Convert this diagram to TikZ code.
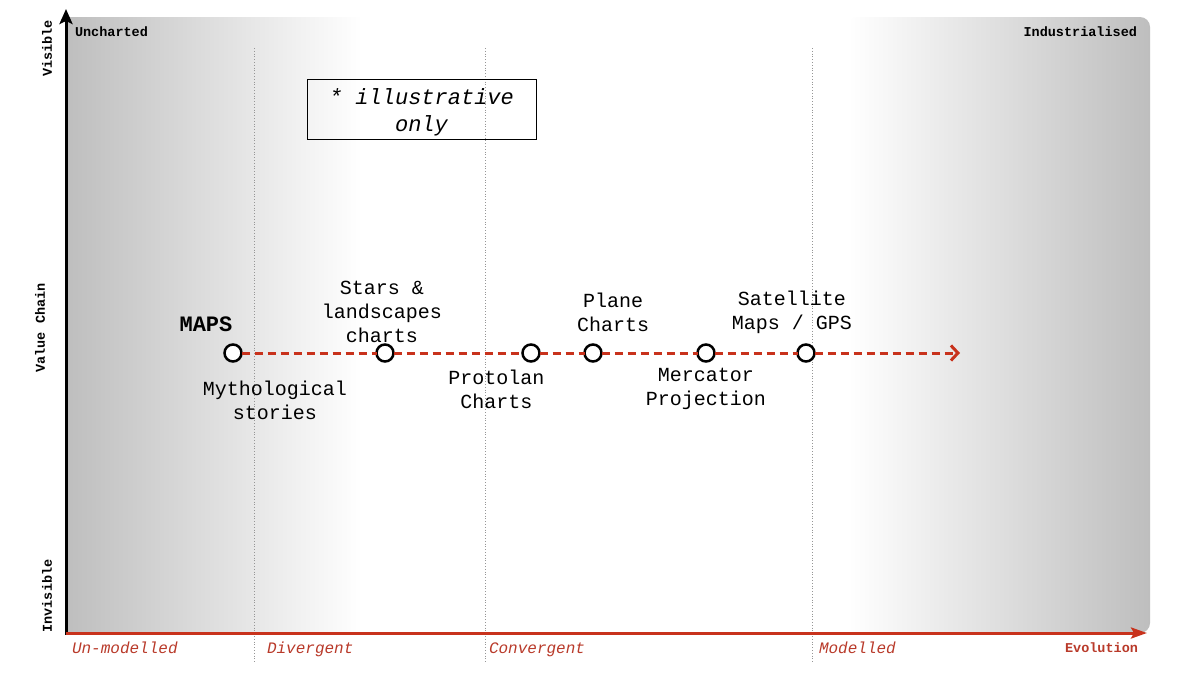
\documentclass[tikz,border=0pt]{standalone}
\usepackage{fontspec}
\setmainfont{Liberation Mono}
\usetikzlibrary{arrows.meta}
\definecolor{evored}{RGB}{200,50,28}
\definecolor{lblred}{RGB}{185,58,42}
\definecolor{edgegray}{RGB}{190,190,190}
\definecolor{dotgray}{RGB}{150,150,150}
\tikzset{
  every node/.style={inner sep=0pt, outer sep=0pt},
  mapdot/.style={circle, draw=black, line width=2.5pt, fill=white, minimum size=17pt},
  lbl/.style={font=\fontsize{20}{24}\selectfont, align=center},
  cornerlbl/.style={font=\fontsize{13.5}{16}\selectfont\bfseries},
  stagelbl/.style={font=\fontsize{16}{19}\selectfont\itshape, text=lblred, anchor=base west},
  axislbl/.style={font=\fontsize{13.5}{16}\selectfont\bfseries, rotate=90},
  stageline/.style={dotgray, dotted, line width=0.8pt},
  flow/.style={evored, line width=3pt, dash pattern=on 8pt off 5pt},
}
\begin{document}
\begin{tikzpicture}[x=1pt,y=-1pt]
\useasboundingbox (0,0) rectangle (1200,675);
\fill[white] (0,0) rectangle (1200,675);
% background gradients
\shade[left color=edgegray, right color=white] (66,17) rectangle (362,633);
\shade[left color=white, right color=edgegray, rounded corners=10pt] (848,17) rectangle (1150,633);
% stage lines
\draw[stageline] (254,48) -- (254,662);
\draw[stageline] (485,48) -- (485,662);
\draw[stageline] (812,48) -- (812,662);
% axes
\coordinate (O) at (66,633);
\coordinate (ytop) at (66,9);
\coordinate (xend) at (1147,633);
\draw[line width=3pt, -{Stealth[length=15pt,width=13pt,inset=3pt]}] (66,634.5) -- (ytop);
\draw[evored, line width=3pt, -{Stealth[length=16pt,width=11pt,inset=3pt]}] (O) -- (xend);
% corner labels
\node[cornerlbl, anchor=base west] (unch) at (75,36.5) {Uncharted};
\node[cornerlbl, anchor=base east] (ind) at (1137,36.5) {Industrialised};
\node[cornerlbl, anchor=base east, text=lblred] (evo) at (1138,652.5) {Evolution};
% axis labels
\node[axislbl] (vis) at (47,48.5) {Visible};
\node[axislbl] (vc) at (40,328) {Value Chain};
\node[axislbl] (invis) at (47,596) {Invisible};
% stage labels
\node[stagelbl] (s1) at (72,653) {Un-modelled};
\node[stagelbl] (s2) at (267,653) {Divergent};
\node[stagelbl] (s3) at (489,653) {Convergent};
\node[stagelbl] (s4) at (819,653) {Modelled};
% note box
\draw[line width=1pt] (307,79) rectangle (536,139);
\node[align=center, font=\fontsize{22}{27}\selectfont\itshape] (note) at (421.5,112) {* illustrative\\only};
% map evolution points
\node[mapdot] (m1) at (233,353) {};
\node[mapdot] (m2) at (385,353) {};
\node[mapdot] (m3) at (531,353) {};
\node[mapdot] (m4) at (593,353) {};
\node[mapdot] (m5) at (706,353) {};
\node[mapdot] (m6) at (806,353) {};
\coordinate (mend) at (960,353);
\draw[flow] (m1) -- (m2);
\draw[flow] (m2) -- (m3);
\draw[flow] (m3) -- (m4);
\draw[flow] (m4) -- (m5);
\draw[flow] (m5) -- (m6);
\draw[flow, -{Straight Barb[length=7pt,width=15pt,line width=3pt]}] (m6) -- (mend);
% labels
\node[font=\fontsize{22}{26}\selectfont\bfseries] (maps) at (206,324) {MAPS};
\node[lbl] (l1) at (275,400) {Mythological\\stories};
\node[lbl] (l2) at (382,312) {Stars \&\\landscapes\\charts};
\node[lbl] (l3) at (496.5,389) {Protolan\\Charts};
\node[lbl] (l4) at (613,312) {Plane\\Charts};
\node[lbl] (l5) at (706,389) {Mercator\\Projection};
\node[lbl] (l6) at (792,312) {Satellite\\Maps / GPS};
\end{tikzpicture}
\end{document}
